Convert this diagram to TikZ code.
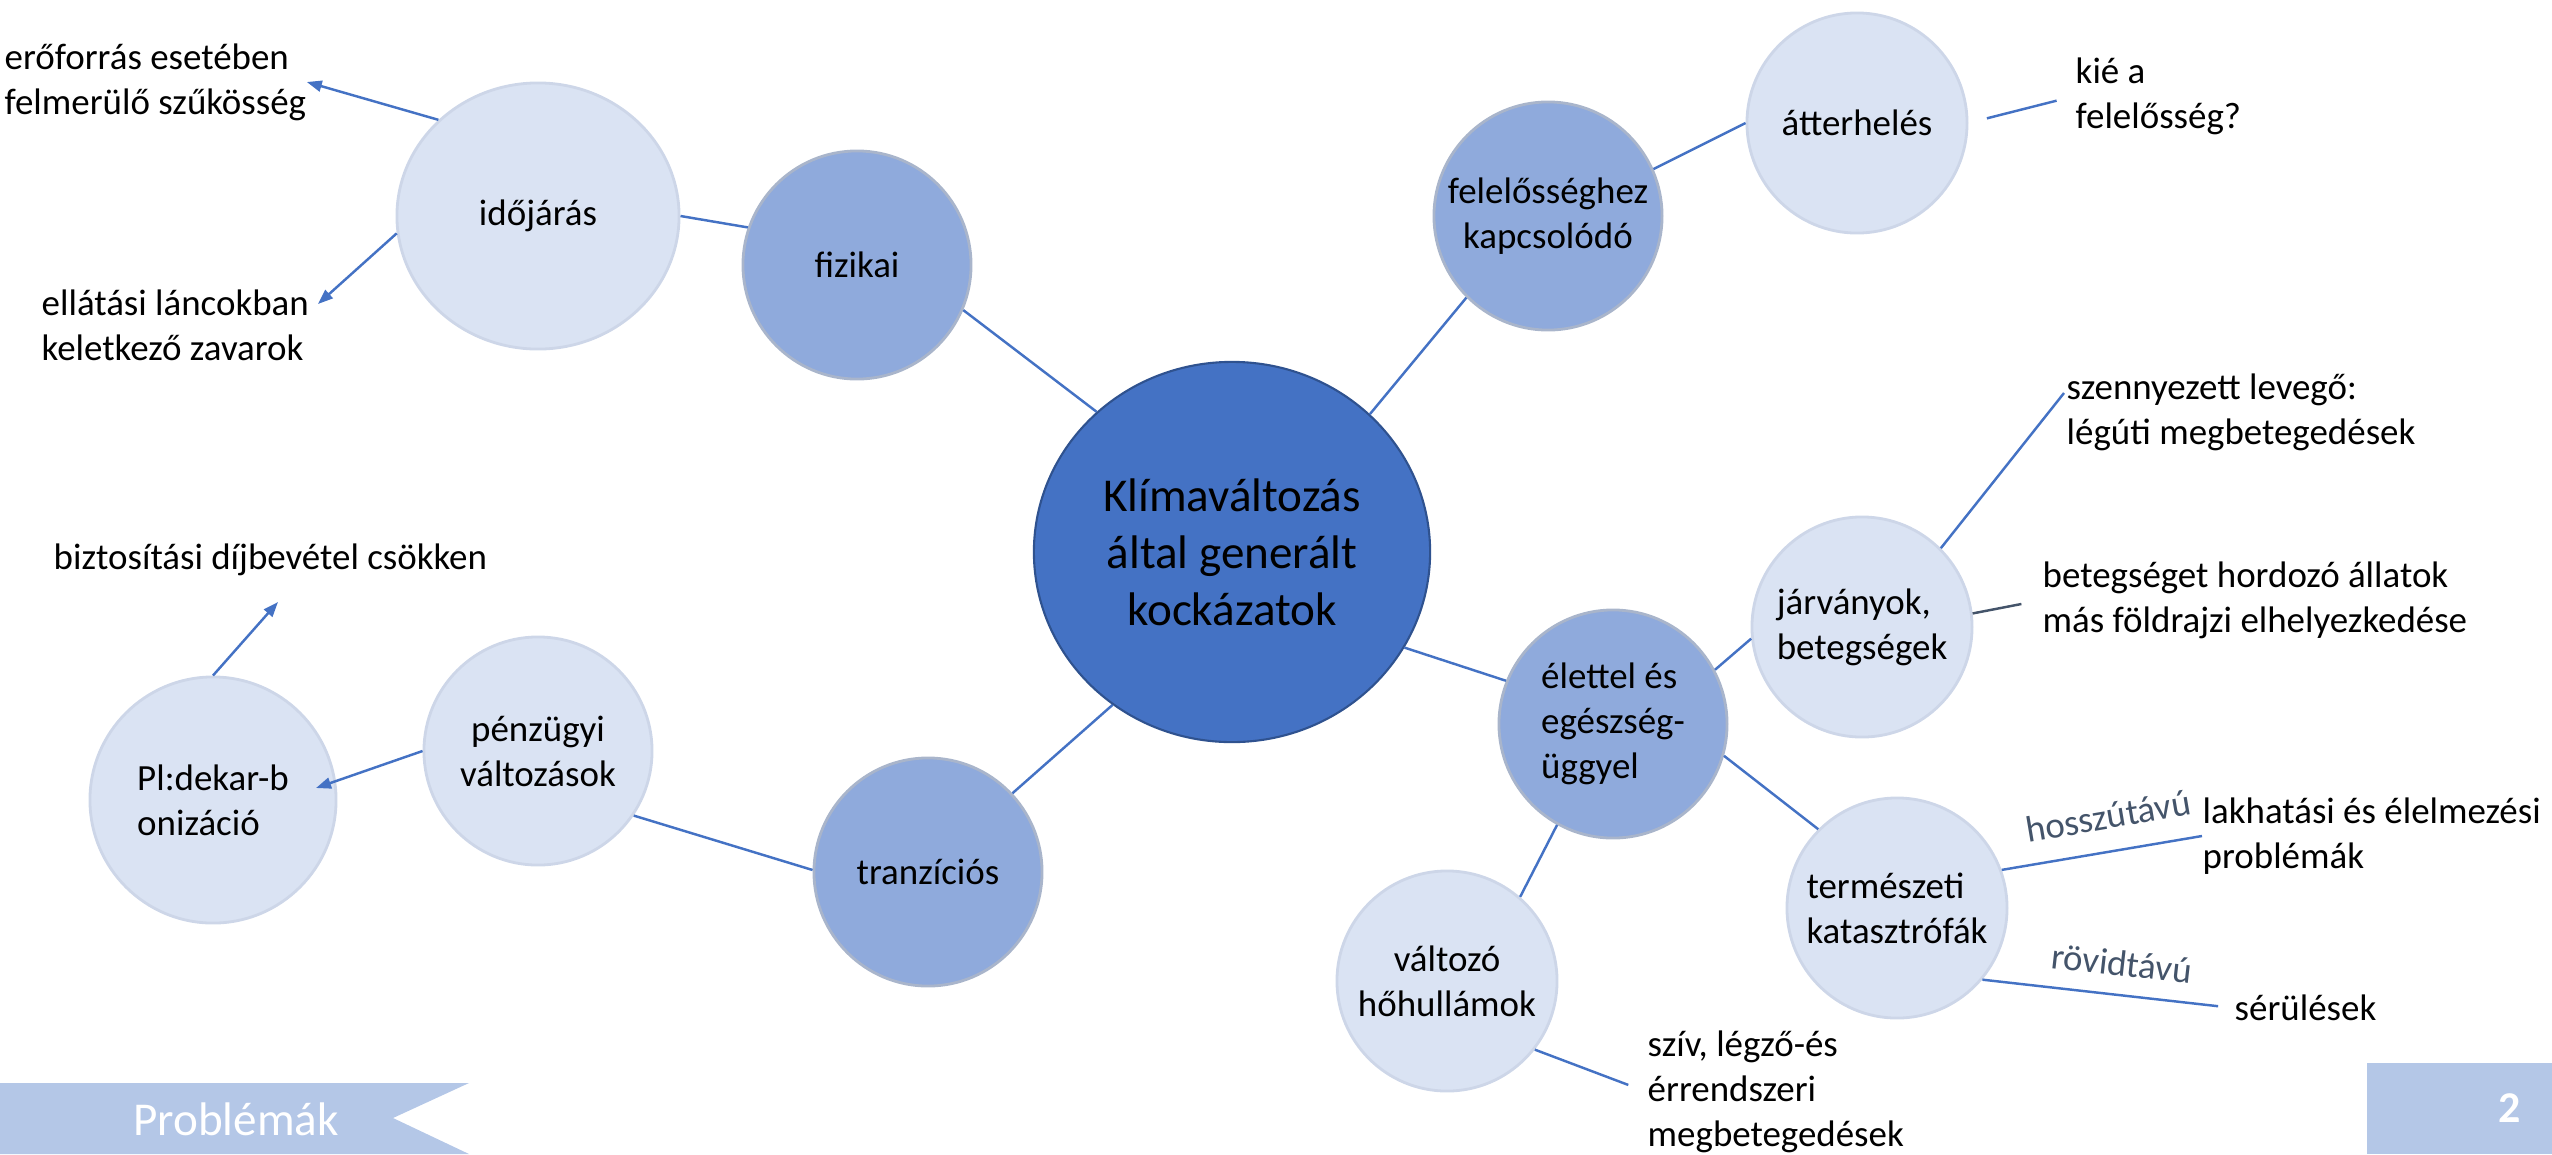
\documentclass[tikz,border=0pt]{standalone}
\usepackage{fontspec}
\setmainfont{Carlito}
\usetikzlibrary{arrows.meta,shapes.geometric}
\definecolor{cmain}{HTML}{4472C4}
\definecolor{cmainb}{HTML}{2F528F}
\definecolor{cmid}{HTML}{8FAADC}
\definecolor{cmidb}{HTML}{A9B5CB}
\definecolor{clight}{HTML}{DAE3F3}
\definecolor{clightb}{HTML}{CDD6E8}
\definecolor{cban}{HTML}{B4C7E7}
\definecolor{cgrey}{HTML}{44546A}
\begin{document}
\begin{tikzpicture}[x=0.01cm,y=-0.01cm,
  txt/.style={font=\fontsize{10.5}{12.8}\selectfont, inner sep=0pt, text=black},
  bubble/.style={circle, inner sep=0pt, txt, line width=0.8pt},
  lightc/.style={bubble, fill=clight, draw=clightb},
  midc/.style={bubble, fill=cmid, draw=cmidb},
  link/.style={draw=cmain, line width=0.7pt},
  arr/.style={link, -{Triangle[length=0.15cm,width=0.11cm]}},
  lbl/.style={txt, anchor=west, align=left},
  tag/.style={font=\fontsize{10.5}{12.8}\selectfont, text=cgrey, sloped, inner sep=2pt}
]
\useasboundingbox (0,0) rectangle (2552,1154);

% circles
\node[ellipse, fill=cmain, draw=cmainb, line width=0.6pt, minimum width=3.96cm, minimum height=3.80cm, inner sep=0pt, align=center, font=\fontsize{13.4}{16.2}\selectfont] (core) at (1232,552) {Klímaváltozás\\által generált\\kockázatok};
\node[lightc, ellipse, minimum width=2.82cm, minimum height=2.66cm] (idoj) at (538,216) {időjárás};
\node[midc, minimum size=2.28cm] (fiz) at (857,265) {fizikai};
\node[midc, minimum size=2.28cm, align=center] (felel) at (1548,216) {felelősséghez\\kapcsolódó};
\node[lightc, minimum size=2.2cm] (atter) at (1857,123) {átterhelés};
\node[lightc, minimum size=2.2cm, align=left] (jarv) at (1862,627) {járványok,\\betegségek};
\node[midc, minimum size=2.28cm, align=left] (elet) at (1613,724) {élettel és\\egészség-\\üggyel};
\node[lightc, minimum size=2.2cm, align=left] (nat) at (1897,908) {természeti\\katasztrófák};
\node[lightc, minimum size=2.2cm, align=center] (valt) at (1447,981) {változó\\hőhullámok};
\node[midc, minimum size=2.28cm] (tranz) at (928,872) {tranzíciós};
\node[lightc, minimum size=2.28cm, align=center] (penz) at (538,751) {pénzügyi\\változások};
\node[lightc, minimum size=2.46cm, align=left] (pl) at (213,800) {Pl:dekar-b\\onizáció};

% free texts
\node[lbl] (erof) at (4,82) {erőforrás esetében\\felmerülő szűkösség};
\node[lbl] (ellat) at (41,325) {ellátási láncokban\\keletkező zavarok};
\node[lbl] (bizt) at (53,560) {biztosítási díjbevétel csökken};
\node[lbl] (kie) at (2075,96) {kié a\\felelősség?};
\node[lbl] (szenny) at (2066,412) {szennyezett levegő:\\légúti megbetegedések};
\node[lbl] (beteg) at (2042,600) {betegséget hordozó állatok\\más földrajzi elhelyezkedése};
\node[lbl] (lakh) at (2202,836) {lakhatási és élelmezési\\problémák};
\node[lbl] (serul) at (2234,1008) {sérülések};
\node[lbl] (sziv) at (1647,1092) {szív, légző-és\\érrendszeri\\megbetegedések};

% free ends
\coordinate (plin) at (316,788);
\coordinate (biztip) at (278,602);
\coordinate (elltip) at (318,304);
\coordinate (szc) at (2064,393);

% connectors
\draw[link] (idoj.0) -- (fiz.161);
\draw[link] (fiz.-23) -- (core.134);
\draw[link] (core.45) -- (felel.225);
\draw[link] (felel.24) -- (atter.180);
\draw[link, shorten <=0.19cm, shorten >=0.19cm] (atter.0) -- (kie.west);
\draw[link] (core.-29) -- (elet.158);
\draw[link] (elet.28) -- (jarv.186);
\draw[link] (elet.-16) -- (nat.135);
\draw[link] (elet.241) -- (valt.49);
\draw[link, shorten >=0.2cm] (valt.-38) -- (sziv.west);
\draw[link] (jarv.45) -- (szc);
\draw[link, draw=cgrey, shorten >=0.21cm] (jarv.7) -- (beteg.west);
\draw[link] (nat.20) -- node[tag, above=4pt, pos=0.56] {hosszútávú} (lakh.west);
\draw[link, shorten >=0.16cm] (nat.-40) -- node[tag, above=3pt, pos=0.54] {rövidtávú} (serul.west);
\draw[link] (core.232) -- (tranz.43);
\draw[link] (tranz.179) -- (penz.-34);
\draw[arr] (penz.180) -- (plin);
\draw[arr] (pl.90) -- (biztip);
\draw[arr] (idoj.136) -- (erof.east);
\draw[arr] (idoj.187) -- (elltip);

% footer
\fill[cban] (0,1083) -- (469,1083) -- (393,1118) -- (469,1154) -- (0,1154) -- cycle;
\node[font=\fontsize{13.4}{16}\selectfont, text=white] (prob) at (236,1119) {Problémák};
\fill[cban] (2367,1063) rectangle (2552,1154);
\node[font=\bfseries\fontsize{12.5}{15}\selectfont, text=white] (pg) at (2510,1108) {2};
\end{tikzpicture}
\end{document}
